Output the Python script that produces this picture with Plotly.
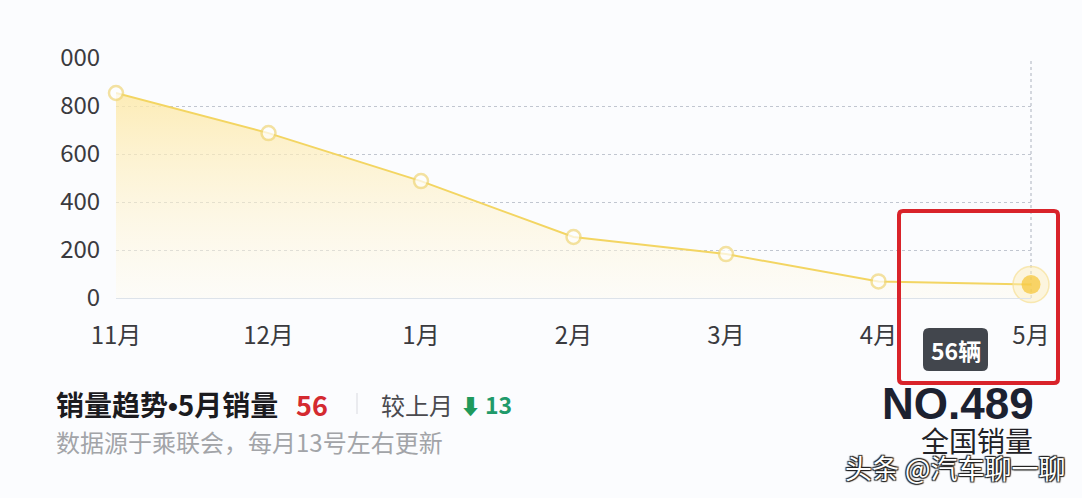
import plotly.graph_objects as go

# ---- data ----
months = ["11月", "12月", "1月", "2月", "3月", "4月", "5月"]
sales = [854, 687, 487, 254, 183, 69, 56]
y_tick_vals = [0, 200, 400, 600, 800, 1000]
y_tick_text = ["0", "200", "400", "600", "800", "000"]

W, H = 1082, 498
ML, MR, MT, MB = 116, 51, 58, 200
PW, PH = W - ML - MR, H - MT - MB


def px(x):
    return (x - ML) / PW


def py(y):
    return (H - MB - y) / PH


def rounded_rect(x0, y0, x1, y1, r):
    rx, ry = r / PW, r / PH
    X0, X1 = px(x0), px(x1)
    Y0, Y1 = py(y1), py(y0)
    return (f"M {X0+rx},{Y1} L {X1-rx},{Y1} Q {X1},{Y1} {X1},{Y1-ry} "
            f"L {X1},{Y0+ry} Q {X1},{Y0} {X1-rx},{Y0} L {X0+rx},{Y0} "
            f"Q {X0},{Y0} {X0},{Y0+ry} L {X0},{Y1-ry} Q {X0},{Y1} {X0+rx},{Y1} Z")


FONT = "Noto Sans CJK SC"
n = len(sales)
marker_colors = ["#ffffff"] * (n - 1) + ["#f7c633"]
marker_sizes = [14] * (n - 1) + [19]
marker_line_colors = ["#f0d77a"] * (n - 1) + ["rgba(0,0,0,0)"]

fig = go.Figure()

fig.add_trace(go.Scatter(
    x=months, y=sales, mode="lines",
    line=dict(color="#f3d562", width=2),
    fill="tozeroy",
    fillgradient=dict(type="vertical",
                      colorscale=[[0, "rgba(255,251,238,0.4)"],
                                  [1, "rgba(253,232,165,0.8)"]]),
    hoverinfo="skip", showlegend=False,
))

fig.add_trace(go.Scatter(
    x=[months[-1]], y=[sales[-1]], mode="markers", cliponaxis=False,
    marker=dict(size=36, color="rgba(253,238,185,0.45)",
                line=dict(color="rgba(246,224,150,0.7)", width=1.5)),
    hoverinfo="skip", showlegend=False,
))

fig.add_trace(go.Scatter(
    x=months, y=sales, mode="markers", cliponaxis=False,
    marker=dict(size=marker_sizes, color=marker_colors,
                line=dict(color=marker_line_colors, width=2.5)),
    hoverinfo="skip", showlegend=False,
))

shapes = [
    dict(type="line", xref="paper", yref="paper", x0=1, x1=1, y0=0, y1=1,
         line=dict(color="#b9bec8", width=1.2, dash="dot"), layer="below"),
    dict(type="path", xref="paper", yref="paper",
         path=rounded_rect(899, 211, 1058, 383, 4),
         line=dict(color="#d9232a", width=4), fillcolor="rgba(0,0,0,0)"),
    dict(type="path", xref="paper", yref="paper",
         path=rounded_rect(923, 328, 988, 371, 6),
         line=dict(color="rgba(0,0,0,0)", width=0), fillcolor="rgba(52,56,64,0.93)"),
    dict(type="line", xref="paper", yref="paper", x0=px(357), x1=px(357),
         y0=py(414), y1=py(393), line=dict(color="#e4e6ea", width=1.5)),
]

ann = []


def add_text(text, x, y, size, color, xanchor="left", bold=False, family=FONT, **kw):
    ann.append(dict(
        text=f"<b>{text}</b>" if bold else text,
        x=px(x), y=py(y), xref="paper", yref="paper",
        xanchor=xanchor, yanchor="middle", showarrow=False,
        font=dict(family=family, size=size, color=color, **kw)))


add_text(f"{sales[-1]}辆", 955.5, 350, 23, "#ffffff", xanchor="center", bold=True)
add_text('销量趋势<span style="font-family:Liberation Sans">•</span>5月销量',
         54, 404, 28, "#1b1b1f", bold=True)
add_text(str(sales[-1]), 294, 404, 27, "#d42a30", bold=True)
add_text("较上月", 379, 404, 24, "#4a4a4f")
add_text("⬇", 458, 405, 21, "#1f9a5c")
add_text(str(sales[-2] - sales[-1]), 483, 404, 23, "#1f9a6a", bold=True)
add_text("数据源于乘联会，每月13号左右更新", 54, 441, 24, "#a2a4a8")
add_text("NO.489", 1036, 403, 44, "#1c2130", xanchor="right", bold=True,
         family="Liberation Sans")
add_text("全国销量", 1035, 440, 28, "#222226", xanchor="right")
add_text("头条 @汽车聊一聊", 1068, 467, 27, "#ffffff", xanchor="right",
         shadow="1px 1px 1px #222, -1px -1px 1px #222, 1px -1px 1px #222, -1px 1px 1px #222")

fig.update_layout(
    width=W, height=H,
    margin=dict(l=ML, r=MR, t=MT, b=MB, pad=0),
    paper_bgcolor="#fbfcfe", plot_bgcolor="#fbfcfe",
    showlegend=False, hovermode=False,
    shapes=shapes, annotations=ann,
    font=dict(family=FONT, color="#333333"),
)
fig.update_xaxes(
    type="category", range=[0, n - 1], showgrid=False, zeroline=False,
    showline=True, linecolor="#dde3ea", linewidth=1.2,
    ticks="outside", ticklen=16, tickcolor="rgba(0,0,0,0)",
    tickfont=dict(family=FONT, size=24, color="#3a3a3e"),
)
fig.update_yaxes(
    range=[0, 1000], tickvals=y_tick_vals, ticktext=y_tick_text,
    showgrid=True, gridcolor="#c1c6d0", griddash="dot", gridwidth=1.2,
    zeroline=False, showline=False,
    ticks="outside", ticklen=10, tickcolor="rgba(0,0,0,0)",
    tickfont=dict(family=FONT, size=24, color="#3a3a3e"),
)

fig.write_html("out.html", config={"displayModeBar": False},
               post_script="document.body.style.margin='0px';document.body.style.overflow='hidden';")
